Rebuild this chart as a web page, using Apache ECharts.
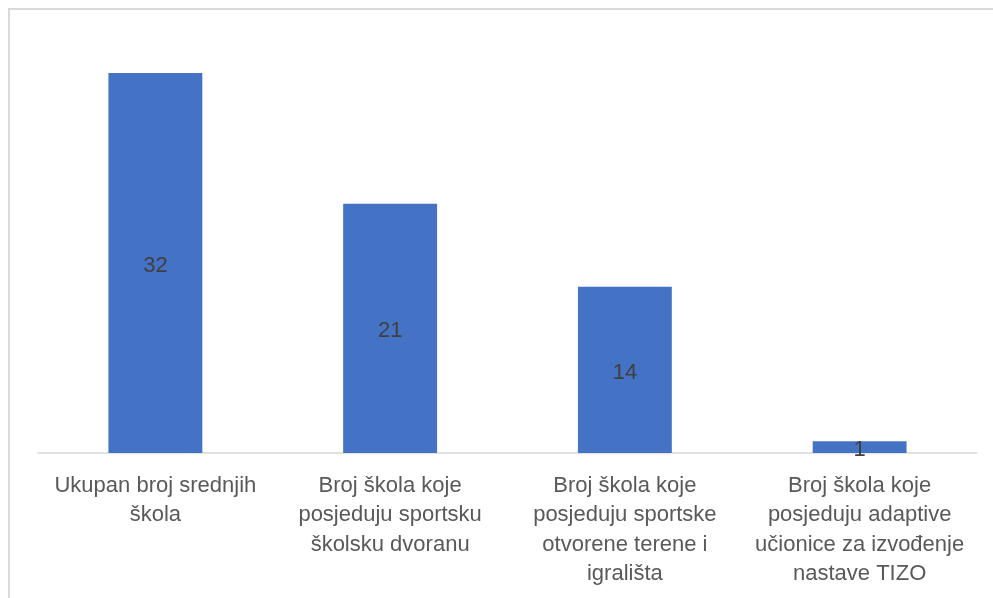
<!DOCTYPE html>
<html>
<head>
<meta charset="utf-8">
<script src="https://cdn.jsdelivr.net/npm/echarts@6/dist/echarts.min.js"></script>
<style>html,body{margin:0;padding:0;background:#fff;}#c{width:993px;height:598px;}</style>
</head>
<body>
<div id="c"></div>
<script>
const categories = [
  'Ukupan broj srednjih\nškola',
  'Broj škola koje\nposjeduju sportsku\nškolsku dvoranu',
  'Broj škola koje\nposjeduju sportske\notvorene terene i\nigrališta',
  'Broj škola koje\nposjeduju adaptive\nučionice za izvođenje\nnastave TIZO'
];
const values = [32, 21, 14, 1];

const chart = echarts.init(document.getElementById('c'), null, {renderer: 'canvas'});
chart.setOption({
  animation: false,
  backgroundColor: '#fff',
  graphic: [{
    type: 'rect', silent: true, z: 0,
    shape: {x: 9, y: 9, width: 1100, height: 700},
    style: {fill: 'none', stroke: '#d9d9d9', lineWidth: 2}
  }],
  grid: {left: 38, right: 16, top: 37.4, bottom: 145, containLabel: false},
  xAxis: {
    type: 'category',
    data: categories,
    axisLine: {show: true, lineStyle: {color: '#d9d9d9', width: 1.5}},
    axisTick: {show: false},
    axisLabel: {
      interval: 0, margin: 18,
      color: '#595959', fontFamily: 'Liberation Sans', fontSize: 22, lineHeight: 29.5
    }
  },
  yAxis: {
    type: 'value', min: 0, max: 35, show: false,
    splitLine: {show: false}
  },
  series: [{
    type: 'bar',
    data: values,
    barWidth: '40%',
    itemStyle: {color: '#4472C4'},
    label: {
      show: true, position: 'inside', offset: [0, 3],
      color: '#404040', fontFamily: 'Liberation Sans', fontSize: 22
    }
  }]
});
</script>
</body>
</html>
